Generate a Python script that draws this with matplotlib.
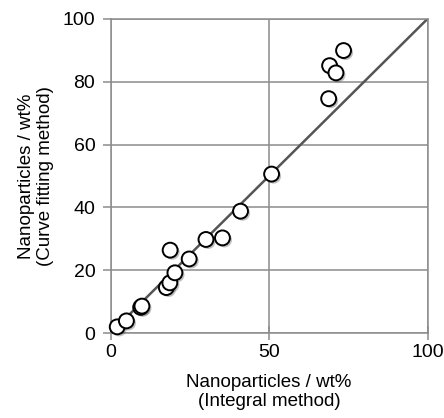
import matplotlib.pyplot as plt
import matplotlib.patheffects as pe

plt.rcParams['font.family'] = ['Liberation Sans', 'DejaVu Sans']

# integral method (x) vs curve fitting method (y), wt%
integral = [2.1, 5.0, 9.5, 9.9, 17.6, 18.7, 18.8, 20.3, 24.8, 30.1, 35.3,
            41.0, 50.8, 68.8, 69.1, 71.1, 73.5]
curve_fit = [2.0, 3.9, 8.2, 8.6, 14.5, 16.0, 26.4, 19.2, 23.6, 29.8, 30.3,
             38.8, 50.6, 74.6, 85.1, 82.8, 89.9]

fig = plt.figure(figsize=(4.44, 4.18), dpi=100)
ax = fig.add_axes([0.249, 0.203, 0.714, 0.752])

grid_c = '#8c8c8c'
ax.set_xlim(0, 100)
ax.set_ylim(0, 100)
ax.set_xticks([0, 50, 100])
ax.set_yticks([0, 20, 40, 60, 80, 100])
ax.grid(True, color=grid_c, linewidth=1.1)
ax.set_axisbelow(True)
for s in ax.spines.values():
    s.set_color(grid_c)
    s.set_linewidth(1.1)
ax.tick_params(axis='x', direction='inout', length=10, width=1.1, color=grid_c,
               labelsize=14, pad=3)
ax.tick_params(axis='y', direction='out', length=6, width=1.1, color=grid_c,
               labelsize=14, pad=5)

# y = x reference line
ax.plot([0, 100], [0, 100], color='#555555', linewidth=1.8, zorder=2)

ax.scatter(integral, curve_fit, s=115, facecolors='white', edgecolors='black',
           linewidths=1.4, zorder=3, clip_on=False,
           path_effects=[pe.SimplePatchShadow(offset=(1.5, -1.5), alpha=0.35),
                         pe.Normal()])

ax.set_xlabel('Nanoparticles / wt%\n(Integral method)', fontsize=13.5,
              labelpad=9, linespacing=1.15)
ax.set_ylabel('Nanoparticles / wt%\n(Curve fitting method)', fontsize=13.5,
              labelpad=6, linespacing=1.15)

fig.savefig('out.png', dpi=100)
